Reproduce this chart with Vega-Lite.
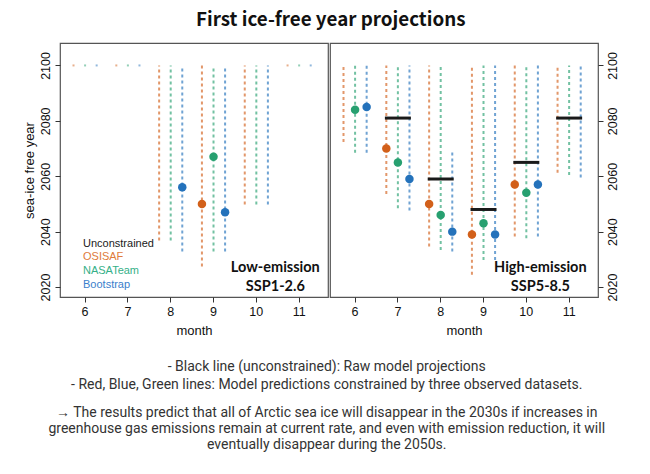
{
  "$schema": "https://vega.github.io/schema/vega-lite/v6.json",
  "background": "white",
  "padding": {"left": 22, "top": 10, "right": 5, "bottom": 5},
  "config": {
    "view": {"stroke": "#555555", "strokeWidth": 1.2},
    "font": "Liberation Sans",
    "concat": {"spacing": 0},
    "axis": {
      "grid": false,
      "domain": false,
      "tickColor": "#333333",
      "tickSize": 5,
      "labelFont": "Liberation Sans",
      "labelFontSize": 12.5,
      "labelColor": "#111111",
      "titleFont": "Liberation Sans",
      "titleFontSize": 13,
      "titleFontWeight": "normal",
      "titleColor": "#111111"
    }
  },
  "title": {
    "text": "First ice-free year projections",
    "font": "Noto Sans CJK KR",
    "fontSize": 18.8,
    "fontWeight": "bold",
    "color": "#111111",
    "anchor": "middle",
    "offset": 13,
    "dx": 10
  },
  "datasets": {
    "ranges": [
      {"panel": "low", "month": 6, "src": "OSISAF", "lo": 2100, "hi": 2100},
      {"panel": "low", "month": 6, "src": "NASATeam", "lo": 2100, "hi": 2100},
      {"panel": "low", "month": 6, "src": "Bootstrap", "lo": 2100, "hi": 2100},
      {"panel": "low", "month": 7, "src": "OSISAF", "lo": 2100, "hi": 2100},
      {"panel": "low", "month": 7, "src": "NASATeam", "lo": 2100, "hi": 2100},
      {"panel": "low", "month": 7, "src": "Bootstrap", "lo": 2100, "hi": 2100},
      {"panel": "low", "month": 8, "src": "OSISAF", "lo": 2036.8, "hi": 2100},
      {"panel": "low", "month": 8, "src": "NASATeam", "lo": 2036.8, "hi": 2100},
      {"panel": "low", "month": 8, "src": "Bootstrap", "lo": 2032.8, "hi": 2100},
      {"panel": "low", "month": 9, "src": "OSISAF", "lo": 2027.4, "hi": 2100},
      {"panel": "low", "month": 9, "src": "NASATeam", "lo": 2032.8, "hi": 2100},
      {"panel": "low", "month": 9, "src": "Bootstrap", "lo": 2032.8, "hi": 2100},
      {"panel": "low", "month": 10, "src": "OSISAF", "lo": 2049.8, "hi": 2100},
      {"panel": "low", "month": 10, "src": "NASATeam", "lo": 2049.8, "hi": 2100},
      {"panel": "low", "month": 10, "src": "Bootstrap", "lo": 2049.8, "hi": 2100},
      {"panel": "low", "month": 11, "src": "OSISAF", "lo": 2100, "hi": 2100},
      {"panel": "low", "month": 11, "src": "NASATeam", "lo": 2100, "hi": 2100},
      {"panel": "low", "month": 11, "src": "Bootstrap", "lo": 2100, "hi": 2100},
      {"panel": "high", "month": 6, "src": "OSISAF", "lo": 2072.4, "hi": 2100},
      {"panel": "high", "month": 6, "src": "NASATeam", "lo": 2068.5, "hi": 2100},
      {"panel": "high", "month": 6, "src": "Bootstrap", "lo": 2068.5, "hi": 2100},
      {"panel": "high", "month": 7, "src": "OSISAF", "lo": 2053.6, "hi": 2100},
      {"panel": "high", "month": 7, "src": "NASATeam", "lo": 2048.4, "hi": 2100},
      {"panel": "high", "month": 7, "src": "Bootstrap", "lo": 2047.6, "hi": 2100},
      {"panel": "high", "month": 8, "src": "OSISAF", "lo": 2034.6, "hi": 2100},
      {"panel": "high", "month": 8, "src": "NASATeam", "lo": 2033.4, "hi": 2100},
      {"panel": "high", "month": 8, "src": "Bootstrap", "lo": 2032.8, "hi": 2068.8},
      {"panel": "high", "month": 9, "src": "OSISAF", "lo": 2024.4, "hi": 2100},
      {"panel": "high", "month": 9, "src": "NASATeam", "lo": 2029.8, "hi": 2100},
      {"panel": "high", "month": 9, "src": "Bootstrap", "lo": 2029.8, "hi": 2100},
      {"panel": "high", "month": 10, "src": "OSISAF", "lo": 2038.2, "hi": 2100},
      {"panel": "high", "month": 10, "src": "NASATeam", "lo": 2037.6, "hi": 2100},
      {"panel": "high", "month": 10, "src": "Bootstrap", "lo": 2038.2, "hi": 2100},
      {"panel": "high", "month": 11, "src": "OSISAF", "lo": 2061.3, "hi": 2100},
      {"panel": "high", "month": 11, "src": "NASATeam", "lo": 2060.4, "hi": 2100},
      {"panel": "high", "month": 11, "src": "Bootstrap", "lo": 2059.5, "hi": 2100}
    ],
    "estimates": [
      {"panel": "low", "month": 8, "src": "Bootstrap", "year": 2056},
      {"panel": "low", "month": 9, "src": "OSISAF", "year": 2050},
      {"panel": "low", "month": 9, "src": "NASATeam", "year": 2067},
      {"panel": "low", "month": 9, "src": "Bootstrap", "year": 2047},
      {"panel": "high", "month": 6, "src": "NASATeam", "year": 2084},
      {"panel": "high", "month": 6, "src": "Bootstrap", "year": 2085},
      {"panel": "high", "month": 7, "src": "OSISAF", "year": 2070},
      {"panel": "high", "month": 7, "src": "NASATeam", "year": 2065},
      {"panel": "high", "month": 7, "src": "Bootstrap", "year": 2059},
      {"panel": "high", "month": 8, "src": "OSISAF", "year": 2050},
      {"panel": "high", "month": 8, "src": "NASATeam", "year": 2046},
      {"panel": "high", "month": 8, "src": "Bootstrap", "year": 2040},
      {"panel": "high", "month": 9, "src": "OSISAF", "year": 2039},
      {"panel": "high", "month": 9, "src": "NASATeam", "year": 2043},
      {"panel": "high", "month": 9, "src": "Bootstrap", "year": 2039},
      {"panel": "high", "month": 10, "src": "OSISAF", "year": 2057},
      {"panel": "high", "month": 10, "src": "NASATeam", "year": 2054},
      {"panel": "high", "month": 10, "src": "Bootstrap", "year": 2057},
      {"panel": "high", "month": 7, "src": "Unconstrained", "year": 2081},
      {"panel": "high", "month": 8, "src": "Unconstrained", "year": 2059},
      {"panel": "high", "month": 9, "src": "Unconstrained", "year": 2048},
      {"panel": "high", "month": 10, "src": "Unconstrained", "year": 2065},
      {"panel": "high", "month": 11, "src": "Unconstrained", "year": 2081}
    ],
    "scenarios": [
      {"panel": "low", "label": "Low-emission\nSSP1-2.6"},
      {"panel": "high", "label": "High-emission\nSSP5-8.5"}
    ]
  },
  "vconcat": [
    {
      "title": {
        "text": [
          "- Black line (unconstrained): Raw model projections",
          "- Red, Blue, Green lines: Model predictions constrained by three observed datasets."
        ],
        "subtitle": [
          "→ The results predict that all of Arctic sea ice will disappear in the 2030s if increases in",
          "greenhouse gas emissions remain at current rate, and even with emission reduction, it will",
          "eventually disappear during the 2050s."
        ],
        "orient": "bottom",
        "anchor": "middle",
        "font": "Roboto",
        "fontSize": 14,
        "fontWeight": "normal",
        "color": "#333333",
        "lineHeight": 18,
        "subtitleFont": "Roboto",
        "subtitleFontSize": 14,
        "subtitleColor": "#333333",
        "subtitleLineHeight": 16,
        "subtitlePadding": 14,
        "offset": 22,
        "dx": 6
      },
      "resolve": {"scale": {"color": "independent"}},
      "hconcat": [
        {
          "width": 268,
          "height": 254,
          "layer": [
            {
              "data": {"name": "ranges"},
              "transform": [{"filter": "datum.panel === 'low' && datum.lo < datum.hi"}],
              "mark": {"type": "rule", "strokeWidth": 2, "strokeDash": [3, 3], "opacity": 0.65},
              "encoding": {
                "x": {"field": "month", "type": "ordinal",
                  "scale": {"type": "band", "domain": [6, 7, 8, 9, 10, 11], "paddingInner": 0, "paddingOuter": 0.13, "align": 0.33},
                  "axis": {"title": "month", "labelAngle": 0, "bandPosition": 0.5, "labelPadding": 3, "titlePadding": 7}},
                "xOffset": {"field": "src", "type": "nominal",
                  "scale": {"domain": ["OSISAF", "NASATeam", "Bootstrap"], "paddingInner": 0, "paddingOuter": 0.35}},
                "y": {"field": "lo", "type": "quantitative",
                  "scale": {"domain": [2016.4, 2108.1], "nice": false, "zero": false},
                  "axis": {"title": "sea-ice free year", "values": [2020, 2040, 2060, 2080, 2100], "format": "d", "labelAngle": 270, "labelPadding": 3, "titlePadding": 3}},
                "y2": {"field": "hi"},
                "color": {"field": "src", "type": "nominal",
                  "scale": {"domain": ["Unconstrained", "OSISAF", "NASATeam", "Bootstrap"], "range": ["#1a1a1a", "#d2601a", "#27a070", "#2472bb"]},
                  "legend": {
                    "title": null,
                    "orient": "none",
                    "legendX": 12,
                    "legendY": 195,
                    "symbolSize": 0,
                    "symbolOpacity": 0,
                    "symbolStrokeWidth": 0,
                    "labelFont": "Liberation Sans",
                    "labelFontSize": 11,
                    "labelOffset": 0,
                    "rowPadding": 1.7,
                    "padding": 0,
                    "encode": {
                      "labels": {
                        "update": {
                          "fill": {"signal": "datum.value === 'OSISAF' ? '#e07b3a' : datum.value === 'NASATeam' ? '#35b088' : datum.value === 'Bootstrap' ? '#3a80cc' : '#1a1a1a'"}
                        }
                      }
                    }
                  }}
              }
            },
            {
              "data": {"name": "ranges"},
              "transform": [{"filter": "datum.panel === 'low' && datum.lo === datum.hi"}],
              "mark": {"type": "point", "shape": "square", "filled": true, "size": 4, "opacity": 0.5},
              "encoding": {
                "x": {"field": "month", "type": "ordinal"},
                "xOffset": {"field": "src", "type": "nominal"},
                "y": {"field": "hi", "type": "quantitative"},
                "color": {"field": "src", "type": "nominal"}
              }
            },
            {
              "data": {"name": "estimates"},
              "transform": [{"filter": "datum.panel === 'low' && datum.src !== 'Unconstrained'"}],
              "mark": {"type": "point", "filled": true, "size": 72, "opacity": 1},
              "encoding": {
                "x": {"field": "month", "type": "ordinal"},
                "xOffset": {"field": "src", "type": "nominal"},
                "y": {"field": "year", "type": "quantitative"},
                "color": {"field": "src", "type": "nominal"}
              }
            },
            {
              "data": {"name": "scenarios"},
              "transform": [{"filter": "datum.panel === 'low'"}],
              "mark": {"type": "text", "font": "Lato", "fontSize": 14.5, "fontWeight": "bold", "color": "#111111", "align": "center", "baseline": "middle", "lineBreak": "\n", "lineHeight": 18.5, "dx": 19},
              "encoding": {
                "x": {"datum": 10, "type": "ordinal"},
                "y": {"datum": 2026.8, "type": "quantitative"},
                "text": {"field": "label"}
              }
            }
          ]
        },
        {
          "width": 268,
          "height": 254,
          "layer": [
            {
              "data": {"name": "ranges"},
              "transform": [{"filter": "datum.panel === 'high'"}],
              "mark": {"type": "rule", "strokeWidth": 2, "strokeDash": [3, 3], "opacity": 0.65},
              "encoding": {
                "x": {"field": "month", "type": "ordinal",
                  "scale": {"type": "band", "domain": [6, 7, 8, 9, 10, 11], "paddingInner": 0, "paddingOuter": 0.13, "align": 0.33},
                  "axis": {"title": "month", "labelAngle": 0, "bandPosition": 0.5, "labelPadding": 3, "titlePadding": 7}},
                "xOffset": {"field": "src", "type": "nominal",
                  "scale": {"domain": ["OSISAF", "NASATeam", "Bootstrap"], "paddingInner": 0, "paddingOuter": 0.35}},
                "y": {"field": "lo", "type": "quantitative",
                  "scale": {"domain": [2016.4, 2108.1], "nice": false, "zero": false},
                  "axis": {"orient": "right", "title": null, "values": [2020, 2040, 2060, 2080, 2100], "format": "d", "labelAngle": 270, "labelPadding": 3}},
                "y2": {"field": "hi"},
                "color": {"field": "src", "type": "nominal",
                  "scale": {"domain": ["Unconstrained", "OSISAF", "NASATeam", "Bootstrap"], "range": ["#1a1a1a", "#d2601a", "#27a070", "#2472bb"]},
                  "legend": null}
              }
            },
            {
              "data": {"name": "estimates"},
              "transform": [{"filter": "datum.panel === 'high' && datum.src === 'Unconstrained'"}],
              "mark": {"type": "tick", "orient": "horizontal", "size": 26, "thickness": 3, "opacity": 1},
              "encoding": {
                "x": {"field": "month", "type": "ordinal"},
                "y": {"field": "year", "type": "quantitative"},
                "color": {"field": "src", "type": "nominal"}
              }
            },
            {
              "data": {"name": "estimates"},
              "transform": [{"filter": "datum.panel === 'high' && datum.src !== 'Unconstrained'"}],
              "mark": {"type": "point", "filled": true, "size": 72, "opacity": 1},
              "encoding": {
                "x": {"field": "month", "type": "ordinal"},
                "xOffset": {"field": "src", "type": "nominal"},
                "y": {"field": "year", "type": "quantitative"},
                "color": {"field": "src", "type": "nominal"}
              }
            },
            {
              "data": {"name": "scenarios"},
              "transform": [{"filter": "datum.panel === 'high'"}],
              "mark": {"type": "text", "font": "Lato", "fontSize": 14.5, "fontWeight": "bold", "color": "#111111", "align": "center", "baseline": "middle", "lineBreak": "\n", "lineHeight": 18.5, "dx": 14},
              "encoding": {
                "x": {"datum": 10, "type": "ordinal"},
                "y": {"datum": 2026.8, "type": "quantitative"},
                "text": {"field": "label"}
              }
            }
          ]
        }
      ]
    }
  ]
}
